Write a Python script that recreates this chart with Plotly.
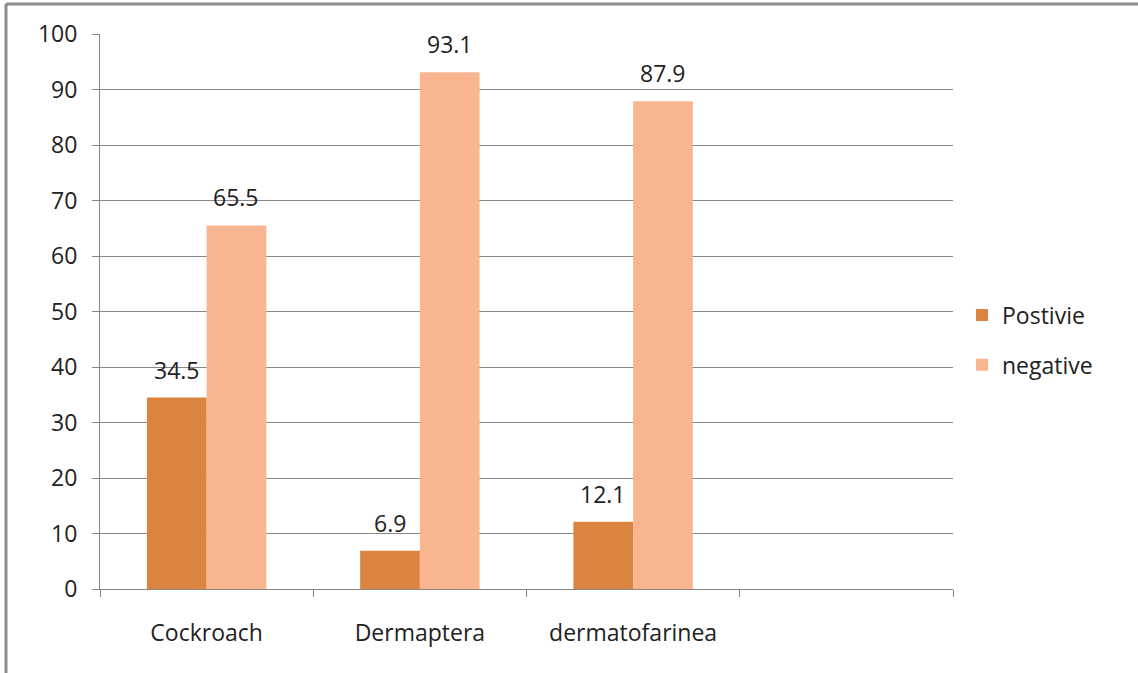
import plotly.graph_objects as go

categories = ["Cockroach", "Dermaptera", "dermatofarinea", " "]
positive = [34.5, 6.9, 12.1, None]
negative = [65.5, 93.1, 87.9, None]
series_names = ["Postivie", "negative"]
y_ticks = list(range(0, 101, 10))

W, H = 1138, 673
L, R, T, B = 100, W - 953, 34, H - 589
pw, ph = W - L - R, H - T - B

FONT = "Open Sans"
fs = 23
BARGAP = 0.44
half = (1 - BARGAP) / 4  # offset of each bar centre from category centre

def fmt(v):
    return f"{v:g}"

fig = go.Figure()
fig.add_trace(go.Bar(
    x=categories, y=positive, name=series_names[0],
    marker=dict(color="#DA843F", line=dict(width=0)),
    legendgroup="a",
))
fig.add_trace(go.Bar(
    x=categories, y=negative, name=series_names[1],
    marker=dict(color="#F9B590", line=dict(width=0)),
    legendgroup="b",
))

annotations = []
for i, (p, n) in enumerate(zip(positive, negative)):
    for v, dx in ((p, -half), (n, half)):
        if v is None:
            continue
        annotations.append(dict(
            x=i + dx, y=v, xref="x", yref="y", text=fmt(v),
            showarrow=False, yanchor="bottom", xanchor="center", yshift=10,
            font=dict(family=FONT, size=fs, color="#222222"),
        ))

fig.update_layout(
    width=W, height=H,
    margin=dict(l=L, r=R, t=T, b=B, autoexpand=False),
    paper_bgcolor="white", plot_bgcolor="white",
    barmode="group", bargap=BARGAP, bargroupgap=0,
    font=dict(family=FONT, size=fs, color="#222222"),
    showlegend=True,
    annotations=annotations,
    legend=dict(
        x=(962 - L) / pw, xanchor="left", y=(H - 340 - B) / ph, yanchor="middle",
        traceorder="grouped", tracegroupgap=17,
        font=dict(family=FONT, size=fs, color="#222222"),
        bgcolor="rgba(0,0,0,0)", itemwidth=30,
    ),
    xaxis=dict(
        type="category", categoryorder="array", categoryarray=categories,
        range=[-0.5, len(categories) - 0.5],
        showline=True, linecolor="#868686", linewidth=1,
        ticks="outside", tickson="boundaries", ticklen=7, tickcolor="#868686",
        showgrid=False, ticklabelstandoff=23,
        tickfont=dict(family=FONT, size=fs, color="#222222"),
    ),
    yaxis=dict(
        range=[0, 100], tickvals=y_ticks,
        showline=True, linecolor="#868686", linewidth=1,
        ticks="outside", ticklen=7, tickcolor="#868686",
        showgrid=True, gridcolor="#868686", gridwidth=1,
        zeroline=False, ticklabelstandoff=10,
        tickfont=dict(family=FONT, size=fs, color="#222222"),
    ),
    shapes=[
        dict(type="line", xref="paper", yref="paper",
             x0=(6 - L) / pw, x1=(W + 5 - L) / pw,
             y0=(H - 4 - B) / ph, y1=(H - 4 - B) / ph,
             line=dict(color="#8C8C8C", width=3)),
        dict(type="line", xref="paper", yref="paper",
             x0=(6 - L) / pw, x1=(6 - L) / pw,
             y0=(H - 4 - B) / ph, y1=(-5 - B) / ph,
             line=dict(color="#8C8C8C", width=3)),
    ],
)

fig.write_html("out.html")
